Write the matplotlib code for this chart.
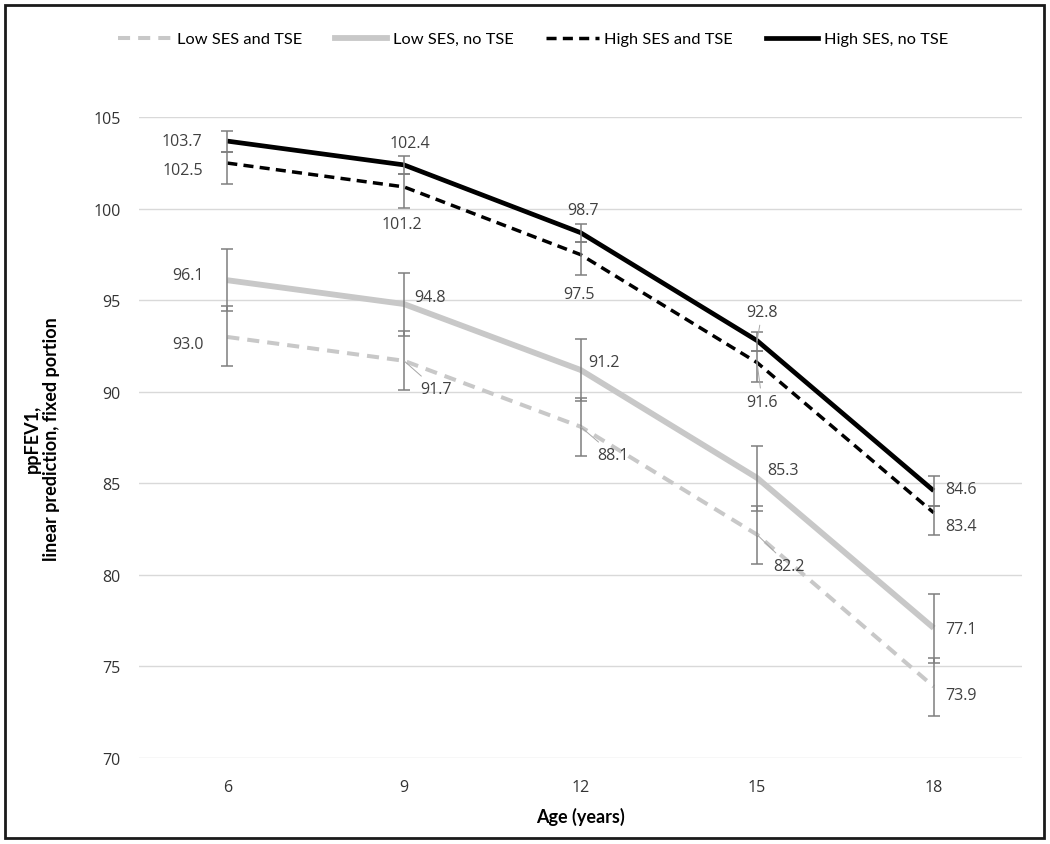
import matplotlib
matplotlib.use("Agg")
import matplotlib.pyplot as plt
import numpy as np
from matplotlib.patches import Rectangle
from matplotlib.lines import Line2D

# ---- data ----
ages = [6, 9, 12, 15, 18]
series_names = ["Low SES and TSE", "Low SES, no TSE", "High SES and TSE", "High SES, no TSE"]

low_tse = [93.0, 91.7, 88.1, 82.2, 73.9]
low_no = [96.1, 94.8, 91.2, 85.3, 77.1]
high_tse = [102.5, 101.2, 97.5, 91.6, 83.4]
high_no = [103.7, 102.4, 98.7, 92.8, 84.6]

low_tse_lo = [91.44, 90.1, 86.5, 80.6, 72.3]
low_tse_hi = [94.67, 93.32, 89.69, 83.75, 75.46]
low_no_lo = [94.4, 93.05, 89.5, 83.5, 75.18]
low_no_hi = [97.8, 96.47, 92.9, 87.05, 78.96]
high_tse_lo = [101.38, 100.05, 96.37, 90.54, 82.18]
high_tse_hi = [103.13, 101.88, 98.18, 92.23, 83.77]
high_no_lo = [103.13, 101.88, 98.18, 92.23, 83.77]
high_no_hi = [104.26, 102.91, 99.18, 93.27, 85.38]

y_ticks = [70, 75, 80, 85, 90, 95, 100, 105]

# ---- figure ----
W, H = 1050, 845
fig = plt.figure(figsize=(W / 100, H / 100), dpi=100)
ax = fig.add_axes([139 / W, 1 - 759 / H, (1022 - 139) / W, (759 - 118.3) / H])

x = np.arange(len(ages))
LABEL_FONT = "Open Sans"
TITLE_FONT = "Lato"

styles = [
    dict(color="#C8C8C8", lw=2.9, dashes=(3.0, 2.0)),
    dict(color="#C8C8C8", lw=4.2, ls="-"),
    dict(color="#000000", lw=2.5, dashes=(2.9, 1.8)),
    dict(color="#000000", lw=3.4, ls="-"),
]
values = [low_tse, low_no, high_tse, high_no]
los = [low_tse_lo, low_no_lo, high_tse_lo, high_no_lo]
his = [low_tse_hi, low_no_hi, high_tse_hi, high_no_hi]

handles = []
for name, v, lo, hi, st in zip(series_names, values, los, his, styles):
    v = np.array(v)
    ax.plot(x, v, solid_capstyle="butt", dash_capstyle="butt", zorder=3, **st)
    handles.append(Line2D([0], [0], **st))
    yerr = np.vstack([v - np.array(lo), np.array(hi) - v])
    ax.errorbar(x, v, yerr=yerr, fmt="none", ecolor="#7F7F7F", elinewidth=1.1,
                capsize=4.5, capthick=1.1, zorder=4)

# ---- data labels (offsets in pixels: dx, dy, ha) ----
px = 0.72
label_pos = {
    0: [(-24, -7, "right"), (16, -28, "left"), (17, -28, "left"), (16, -31, "left"), (12, -8, "left")],
    1: [(-24, 5, "right"), (10, 7, "left"), (8, 8, "left"), (10, 8, "left"), (12, -1, "left")],
    2: [(-24, -7, "right"), (-2, -37, "center"), (-2, -39, "center"), (5, -39, "center"), (12, -13, "left")],
    3: [(-25, 0, "right"), (6, 22, "center"), (3, 23, "center"), (5, 29, "center"), (12, 2, "left")],
}
leaders = {(0, 1), (0, 2), (0, 3), (2, 3), (3, 3)}
for si, v in enumerate(values):
    for i, val in enumerate(v):
        dx, dy, ha = label_pos[si][i]
        ap = None
        if (si, i) in leaders:
            ap = dict(arrowstyle="-", color="#A6A6A6", lw=0.7, shrinkA=2, shrinkB=0)
        ax.annotate(f"{val:.1f}", xy=(x[i], val), xytext=(dx * px, dy * px),
                    textcoords="offset points", ha=ha, va="center",
                    fontsize=11.5, color="#404040", family=LABEL_FONT,
                    arrowprops=ap, zorder=5)

# ---- axes ----
ax.set_xlim(-0.5, len(ages) - 0.5)
ax.set_ylim(70, 105)
ax.set_yticks(y_ticks)
ax.set_xticks(x)
ax.set_xticklabels([str(a) for a in ages])
ax.grid(axis="y", color="#D9D9D9", lw=1.0, zorder=0)
ax.set_axisbelow(True)
for s in ax.spines.values():
    s.set_visible(False)
ax.tick_params(length=0, labelsize=11.5, labelcolor="#333333")
ax.tick_params(axis="y", pad=13)
ax.tick_params(axis="x", pad=15)
for lab in ax.get_xticklabels() + ax.get_yticklabels():
    lab.set_family(LABEL_FONT)

ax.set_xlabel("Age (years)", fontsize=13, fontweight="bold", family=TITLE_FONT, labelpad=9)
ax.set_ylabel("ppFEV1,\nlinear prediction, fixed portion", fontsize=13, fontweight="bold",
              family=TITLE_FONT, labelpad=24)

fig.legend(handles, series_names, loc="center", bbox_to_anchor=(0.508, 1 - 40 / H), ncol=4,
           frameon=False, handlelength=3.2, columnspacing=2.0, handletextpad=0.35,
           prop=dict(family=TITLE_FONT, size=11.8))

fig.patches.append(Rectangle((5 / W, 6 / H), 1039 / W, 833 / H, transform=fig.transFigure,
                             fill=False, ec="#1A1A1A", lw=2.0))

fig.savefig("out.png", dpi=100)
